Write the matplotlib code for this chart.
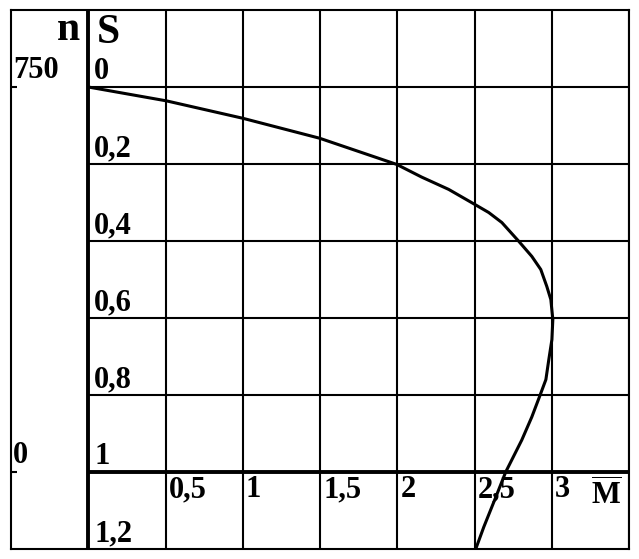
import numpy as np
import matplotlib
matplotlib.use('Agg')
import matplotlib.pyplot as plt

plt.rcParams['font.family'] = ['Liberation Serif', 'DejaVu Serif']
plt.rcParams['font.weight'] = 'bold'
plt.rcParams['mathtext.fontset'] = 'custom'
plt.rcParams['mathtext.bf'] = 'Liberation Serif:bold'
plt.rcParams['mathtext.rm'] = 'Liberation Serif:bold'

# кривая момента M(s)
s_vals = [0, 0.036, 0.081, 0.133, 0.201, 0.234, 0.266, 0.305, 0.326, 0.352,
          0.401, 0.440, 0.474, 0.518, 0.552, 0.604, 0.656, 0.708, 0.760,
          0.802, 0.857, 0.917, 1.0, 1.065, 1.143, 1.2]
m_vals = [0, 0.506, 0.998, 1.497, 1.996, 2.158, 2.333, 2.502, 2.592, 2.677,
          2.787, 2.871, 2.929, 2.968, 2.994, 3.007, 3.001, 2.981, 2.962,
          2.923, 2.871, 2.806, 2.702, 2.638, 2.560, 2.508]

# подписи осей
m_ticks = [0.5, 1, 1.5, 2, 2.5, 3]
m_labels = ['0,5', '1', '1,5', '2', '2,5', '3']
s_ticks = [0, 0.2, 0.4, 0.6, 0.8, 1, 1.2]
s_labels = ['0', '0,2', '0,4', '0,6', '0,8', '1', '1,2']
n_ticks = [0, 1]
n_labels = ['750', '0']

fig = plt.figure(figsize=(6.39, 5.59), dpi=100)
ax = fig.add_axes([11 / 639, 10 / 559, 618 / 639, 539 / 559])
ax.set_xlim(-0.5, 3.5)
ax.set_ylim(1.2, -0.2)
ax.set_xticks([])
ax.set_yticks([])
for sp in ax.spines.values():
    sp.set_linewidth(1.5)
    sp.set_color('black')

# сетка
ax.vlines(m_ticks + [3.5], -0.2, 1.2, color='black', lw=1.5)
ax.hlines(s_ticks[:-2], 0, 3.5, color='black', lw=1.5)
# толстые оси
ax.vlines(0, -0.2, 1.2, color='black', lw=2.8)
ax.hlines(1, 0, 3.5, color='black', lw=2.8)
# засечки шкалы n
ax.hlines(n_ticks, -0.5, -0.46, color='black', lw=1.5)

# кривая
ax.plot(m_vals, s_vals, color='black', lw=2.2, solid_capstyle='butt',
        solid_joinstyle='round')

for s, lab in zip(s_ticks, s_labels):
    ax.annotate(lab, xy=(0, s), xytext=(6, 8), textcoords='offset pixels',
                fontsize=22, fontweight='bold', ha='left', va='baseline')
for n, lab in zip(n_ticks, n_labels):
    ax.annotate(lab, xy=(-0.5, n), xytext=(2, 9), textcoords='offset pixels',
                fontsize=22, fontweight='bold', ha='left', va='baseline')
for m, lab in zip(m_ticks, m_labels):
    ax.annotate(lab, xy=(m, 1), xytext=(3, -25), textcoords='offset pixels',
                fontsize=22, fontweight='bold', ha='left', va='baseline')

ax.annotate(r'$\overline{\mathbf{M}}$', xy=(3.5, 1), xytext=(-7, -33),
            textcoords='offset pixels', fontsize=22, ha='right', va='baseline')
ax.annotate('n', xy=(0, -0.2), xytext=(-8, -30), textcoords='offset pixels',
            fontsize=30, fontweight='bold', ha='right', va='baseline')
ax.annotate('S', xy=(0, -0.2), xytext=(9, -33), textcoords='offset pixels',
            fontsize=30, fontweight='bold', ha='left', va='baseline')

fig.savefig('out.png', dpi=100)
